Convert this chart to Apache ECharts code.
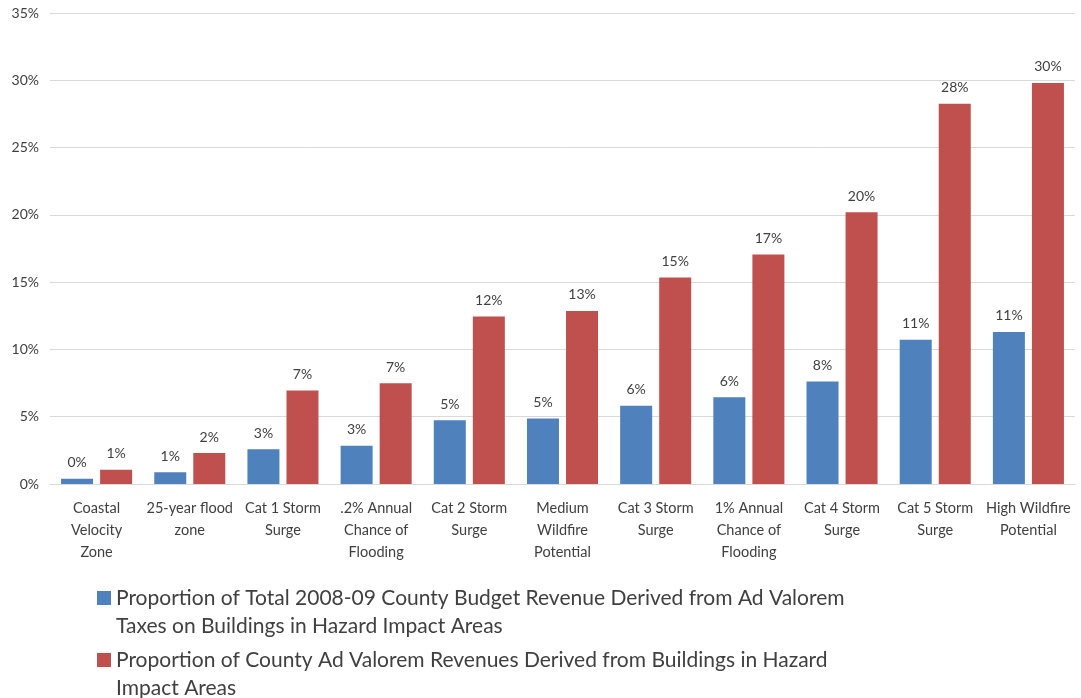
<!DOCTYPE html>
<html>
<head>
<meta charset="utf-8">
<script src="https://cdn.jsdelivr.net/npm/echarts@6/dist/echarts.min.js"></script>
<style>
html,body{margin:0;padding:0;background:#fff;}
#chart{width:1081px;height:698px;}
</style>
</head>
<body>
<div id="chart"></div>
<script>
var categories = [
  "Coastal\nVelocity\nZone",
  "25-year flood\nzone",
  "Cat 1 Storm\nSurge",
  ".2% Annual\nChance of\nFlooding",
  "Cat 2 Storm\nSurge",
  "Medium\nWildfire\nPotential",
  "Cat 3 Storm\nSurge",
  "1% Annual\nChance of\nFlooding",
  "Cat 4 Storm\nSurge",
  "Cat 5 Storm\nSurge",
  "High Wildfire\nPotential"
];
var budgetShare = [0.39, 0.87, 2.58, 2.85, 4.73, 4.86, 5.82, 6.44, 7.61, 10.71, 11.3];
var revenueShare = [1.06, 2.3, 6.94, 7.49, 12.45, 12.86, 15.34, 17.05, 20.2, 28.25, 29.8];
var seriesNames = [
  "Proportion of Total 2008-09 County Budget Revenue Derived from Ad Valorem\nTaxes on Buildings in Hazard Impact Areas",
  "Proportion of County Ad Valorem Revenues Derived from Buildings in Hazard\nImpact Areas"
];

var FONT = "Lato";
var TXT = "#404040";
var chart = echarts.init(document.getElementById('chart'), null, {renderer: 'canvas'});
var lbl = {
  show: true, position: 'top', distance: 9,
  color: TXT, fontFamily: FONT, fontSize: 14,
  formatter: function (p) { return Math.round(p.value) + '%'; }
};
chart.setOption({
  animation: false,
  backgroundColor: '#ffffff',
  grid: {left: 50, right: 6, top: 13, bottom: 214, containLabel: false},
  legend: {
    orient: 'vertical',
    left: 97, top: 584, height: 140,
    padding: 0,
    itemWidth: 14, itemHeight: 56,
    itemGap: 6,
    icon: 'path://M0,7H14V21H0Z M0,0H0.01V0.01H0Z M0,56H0.01V56.01H0Z',
    textStyle: {color: TXT, fontFamily: FONT, fontSize: 21, lineHeight: 28},
    data: seriesNames
  },
  xAxis: {
    type: 'category',
    data: categories,
    axisLine: {lineStyle: {color: '#D9D9D9', width: 1}},
    axisTick: {show: false},
    axisLabel: {color: TXT, fontFamily: FONT, fontSize: 14.5, lineHeight: 22, margin: 13, interval: 0}
  },
  yAxis: {
    type: 'value',
    min: 0, max: 35, interval: 5,
    axisLine: {show: false},
    axisTick: {show: false},
    splitLine: {lineStyle: {color: '#D9D9D9', width: 1}},
    axisLabel: {color: TXT, fontFamily: FONT, fontSize: 14, margin: 11, formatter: '{value}%'}
  },
  series: [
    {name: seriesNames[0], type: 'bar', data: budgetShare, barWidth: 32, barGap: '22%',
     itemStyle: {color: '#4F81BD'}, label: lbl},
    {name: seriesNames[1], type: 'bar', data: revenueShare, barWidth: 32, barGap: '22%',
     itemStyle: {color: '#C0504D'}, label: lbl}
  ]
});
</script>
</body>
</html>
